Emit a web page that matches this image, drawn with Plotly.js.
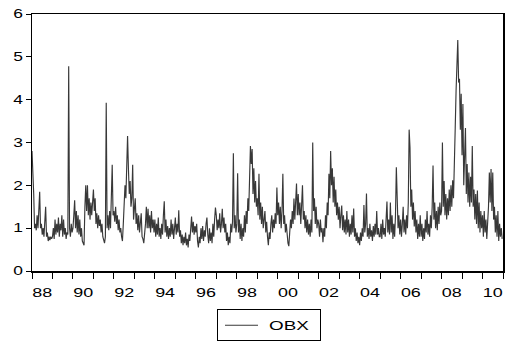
<!DOCTYPE html>
<html><head><meta charset="utf-8">
<script src="https://cdn.plot.ly/plotly-3.0.1.min.js"></script>
<style>html,body{margin:0;padding:0;background:#fff}#chart{width:506px;height:343px}</style>
</head><body><div id="chart"></div>
<script>
// OBX volatility, semi-monthly readings (24 per year)
const startYear = 1988;
const pointsPerYear = 24;
const obx1988 = [2.8,2.4,1.8,1.0,1.1,0.95,1.3,1.0,1.4,1.85,1.0,1.1,0.85,1.0,0.8,1.2,1.5,0.8,0.9,0.7,0.8,0.72,0.8,0.75];
const obx1989 = [0.8,1.0,0.75,1.2,0.85,1.1,0.9,1.25,0.8,1.1,0.95,1.3,0.8,1.2,0.85,1.0,0.75,0.9,0.85,4.78,1.0,0.8,1.1,0.9];
const obx1990 = [1.0,1.3,1.65,1.0,1.4,0.9,1.3,0.85,1.2,0.8,1.0,0.7,0.65,0.6,1.5,2.0,1.4,2.0,1.3,1.7,1.2,1.6,1.3,1.75];
const obx1991 = [1.9,1.4,1.7,1.1,1.35,1.0,1.3,1.05,1.2,0.9,1.1,0.8,0.7,0.65,0.8,3.93,1.0,1.3,0.95,1.4,1.0,1.6,2.48,1.3];
const obx1992 = [1.4,1.15,1.5,1.1,1.3,0.95,1.2,0.9,1.0,0.8,0.7,1.1,1.5,2.0,1.7,2.3,3.15,2.4,1.8,2.1,1.5,1.7,2.48,1.2];
const obx1993 = [1.5,1.7,1.1,1.35,0.95,1.3,0.9,1.1,1.35,0.8,0.75,0.65,0.85,1.1,1.5,1.0,1.45,1.0,1.3,0.9,1.4,1.0,1.2,0.9];
const obx1994 = [1.2,0.8,1.1,0.85,1.25,0.8,1.0,0.75,1.1,0.85,1.3,1.63,0.9,1.2,0.8,1.05,0.75,1.0,0.8,1.2,0.85,1.1,0.75,1.0];
const obx1995 = [1.25,0.85,1.1,0.9,1.42,0.8,0.95,0.65,0.85,0.6,0.8,0.65,0.9,0.6,0.75,0.55,0.85,0.7,1.0,1.27,0.9,1.15,0.85,1.05];
const obx1996 = [0.9,1.1,0.7,0.55,0.8,0.65,1.0,0.75,1.05,0.7,0.95,0.8,1.1,1.25,0.85,0.65,1.0,0.7,0.9,0.65,1.1,0.8,1.2,1.48];
const obx1997 = [1.3,0.95,1.2,1.0,1.35,0.9,1.1,1.45,1.0,1.25,0.9,1.1,0.7,0.9,0.6,0.8,0.65,1.1,0.9,1.15,2.75,1.0,1.3,0.9];
const obx1998 = [1.1,2.28,0.9,1.2,0.75,1.1,0.7,1.0,0.8,1.3,0.9,1.4,1.1,1.7,1.4,2.0,2.92,2.5,2.85,1.8,2.4,1.6,2.1,1.5];
const obx1999 = [1.7,1.3,2.27,1.2,1.6,1.1,1.5,1.0,1.3,1.4,0.9,1.15,0.8,0.6,0.9,0.75,1.1,1.3,0.9,1.2,1.0,1.35,1.1,1.95];
const obx2000 = [1.3,1.6,1.1,1.5,1.0,1.4,2.27,1.1,1.3,0.9,1.1,0.8,0.65,0.58,0.8,1.2,1.0,1.4,1.1,1.69,1.2,1.5,2.04,1.3];
const obx2001 = [1.8,1.3,1.6,1.1,1.5,2.0,1.2,1.4,1.0,1.3,0.9,1.2,0.85,1.1,0.8,1.2,0.9,3.0,1.4,1.7,1.1,1.5,1.0,1.2];
const obx2002 = [1.1,0.8,1.2,0.9,1.0,0.67,1.0,0.8,1.3,1.0,1.6,1.3,2.27,1.7,2.8,2.0,2.4,1.6,2.2,1.5,1.9,1.3,1.6,1.2];
const obx2003 = [1.5,1.0,1.3,1.53,0.95,1.3,0.9,1.2,0.85,1.4,0.9,1.2,0.8,1.1,0.85,1.3,0.9,1.46,0.8,1.0,0.7,0.9,0.65,0.8];
const obx2004 = [0.6,0.9,0.7,1.0,0.8,1.54,0.9,1.1,1.81,0.8,1.0,0.75,1.1,0.8,0.95,0.7,1.05,0.8,1.1,0.85,1.4,0.85,1.0,0.8];
const obx2005 = [0.8,1.1,0.75,1.2,0.85,1.0,0.8,1.1,1.62,0.9,1.2,0.85,1.6,0.9,1.3,0.75,1.1,0.8,1.3,2.42,1.5,1.0,1.3,0.85];
const obx2006 = [1.2,0.8,1.1,1.5,0.9,1.2,0.85,1.3,1.0,1.6,3.3,2.88,1.5,1.9,1.2,1.6,1.04,1.4,0.9,1.2,0.75,1.1,0.8,1.3];
const obx2007 = [0.8,1.1,0.7,1.0,0.75,1.2,0.9,1.4,0.85,1.1,0.8,1.3,1.0,1.5,2.46,1.2,1.6,1.0,1.4,0.95,1.5,1.1,1.6,1.3];
const obx2008 = [1.4,3.0,1.5,2.1,1.3,1.8,1.2,1.7,1.3,1.9,1.4,2.0,1.5,2.12,1.7,2.3,3.34,4.2,4.9,5.39,4.4,4.49,3.3,4.14];
const obx2009 = [2.7,3.9,2.0,2.6,3.34,1.8,2.5,1.6,2.3,1.5,2.2,1.6,2.92,1.5,1.9,1.2,1.8,1.1,1.88,1.0,1.6,0.9,1.4,1.0];
const obx2010 = [1.3,0.8,1.4,0.9,1.2,0.75,1.1,1.5,2.3,1.6,2.38,1.4,2.3,1.2,1.5,0.9,1.3,0.8,1.4,0.7,1.1,0.8,1.0,0.75];

const yearSeries = [obx1988,obx1989,obx1990,obx1991,obx1992,obx1993,obx1994,obx1995,obx1996,obx1997,obx1998,obx1999,
  obx2000,obx2001,obx2002,obx2003,obx2004,obx2005,obx2006,obx2007,obx2008,obx2009,obx2010];

const labelYears = [1988,1990,1992,1994,1996,1998,2000,2002,2004,2006,2008,2010];
const tickLabels = ['88','90','92','94','96','98','00','02','04','06','08','10'];
const yTicks = [0,1,2,3,4,5,6];

const x = [], y = [];
yearSeries.forEach((arr, k) => arr.forEach((v, i) => { x.push(startYear + k + i / pointsPerYear); y.push(v); }));

const fam = 'Arial, "Liberation Sans", sans-serif';
const font = {family: fam, size: 13, color: '#000'};

const trace = {
  x: x, y: y, type: 'scatter', mode: 'lines', name: 'OBX',
  line: {color: '#383838', width: 1.15}
};

const layout = {
  width: 506, height: 343,
  margin: {l: 32, r: 3, t: 14, b: 68},
  paper_bgcolor: '#fff', plot_bgcolor: '#fff',
  font: font,
  showlegend: true,
  legend: {
    orientation: 'h', x: 0.503, xanchor: 'center', y: -0.145, yanchor: 'top',
    bordercolor: '#000', borderwidth: 1, font: font, bgcolor: '#fff'
  },
  xaxis: {
    range: [1988, 2011], showgrid: false, zeroline: false,
    showline: true, linecolor: '#000', linewidth: 1.5, mirror: true,
    tickmode: 'array', tickvals: labelYears.map(v => v + 0.5), ticktext: tickLabels,
    ticks: 'outside', ticklen: 9, tickcolor: 'rgba(0,0,0,0)',
    tickfont: font,
    minor: {tickmode: 'linear', tick0: 1988, dtick: 1, ticks: 'outside', ticklen: 6, tickcolor: '#000', tickwidth: 1, showgrid: false}
  },
  yaxis: {
    range: [0, 6], showgrid: false, zeroline: false,
    showline: true, linecolor: '#000', linewidth: 1.5, mirror: true,
    tickmode: 'array', tickvals: yTicks, ticktext: yTicks.map(String),
    ticks: 'outside', ticklen: 5, tickcolor: '#000', tickwidth: 1,
    tickfont: {family: fam, size: 12, color: '#000'}
  }
};

// The reference uses a horizontally widened typeface; widen the real text nodes.
function stretch(el, s, anchor) {
  const bb = el.getBBox();
  const cx = anchor === 'start' ? bb.x : anchor === 'end' ? bb.x + bb.width : bb.x + bb.width / 2;
  const t = el.getAttribute('transform') || '';
  el.setAttribute('transform', t + ' translate(' + cx + ',0) scale(' + s + ',1) translate(' + (-cx) + ',0)');
}

const gd = document.getElementById('chart');
Plotly.newPlot(gd, [trace], layout, {displayModeBar: false, staticPlot: true}).then(() => {
  gd.querySelectorAll('.xtick text').forEach(e => stretch(e, 1.38, 'middle'));
  gd.querySelectorAll('.ytick text').forEach(e => stretch(e, 1.45, 'end'));
  const leg = gd.querySelector('g.legend');
  if (leg) {
    const sb = leg.querySelector('.scrollbox');
    if (sb) sb.removeAttribute('clip-path');
    const path = leg.querySelector('.legendlines path');
    const txt = leg.querySelector('text.legendtext');
    const m = leg.getCTM().inverse().multiply(path.getCTM());
    path.setAttribute('d', 'M' + (8 - m.e) + ',0h33');
    txt.setAttribute('x', String(52 - m.e));
    stretch(txt, 1.45, 'start');
    const bg = leg.querySelector('rect.bg');
    bg.setAttribute('width', '103');
    const tr = leg.getAttribute('transform') || '';
    const mm = /translate\(\s*([-\d.]+)[ ,]+([-\d.]+)\s*\)/.exec(tr);
    const ly = mm ? parseFloat(mm[2]) : 312;
    leg.setAttribute('transform', 'translate(217,' + (ly + 1) + ')');
  }
});
</script>
</body></html>
